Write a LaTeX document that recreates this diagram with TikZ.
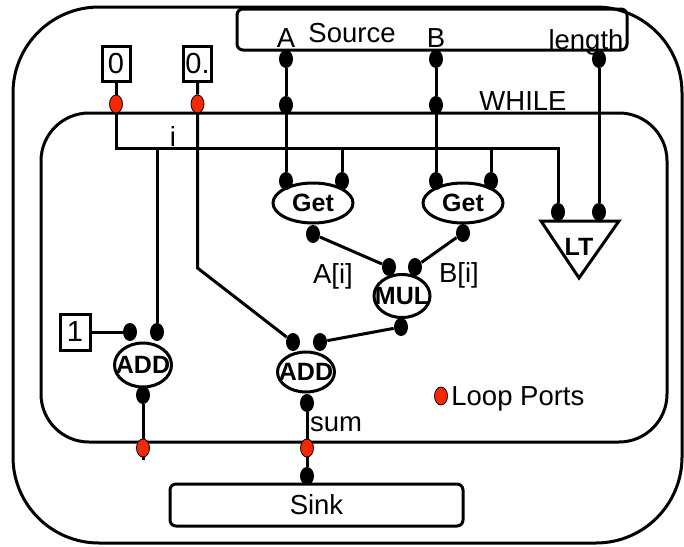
\documentclass[tikz,border=0pt]{standalone}
\usepackage{fontspec}
\setmainfont{Liberation Sans}
\usetikzlibrary{shapes.geometric,calc}
\definecolor{loopred}{RGB}{245,40,0}
\newcommand{\opname}[1]{\makebox[0pt]{#1}}

\begin{document}
\begin{tikzpicture}[x=0.5pt,y=-0.5pt,
  wire/.style={line width=1.5pt},
  frame/.style={draw,line width=1.5pt},
  port/.style={ellipse,fill=black,inner sep=0pt,minimum width=7pt,minimum height=9pt},
  loopport/.style={port,fill=loopred,draw=black,line width=0.4pt,minimum width=6.5pt},
  op/.style={ellipse,draw,line width=1.5pt,fill=white,inner sep=0pt,font=\fontsize{12.5}{12.5}\selectfont\bfseries},
  constbox/.style={rectangle,draw,line width=1.5pt,inner sep=0pt,minimum width=14pt,minimum height=17.5pt,font=\fontsize{14.5}{14.5}\selectfont},
  iobox/.style={rectangle,draw,rounded corners=3pt,line width=1.5pt,inner sep=0pt,font=\fontsize{13.75}{16}\selectfont},
  txt/.style={anchor=base,inner sep=0pt,font=\fontsize{13.75}{16}\selectfont}]
  \useasboundingbox (0,0) rectangle (684,546);

  % outer graph and WHILE loop
  \draw[frame,rounded corners=43pt] (13,7) rectangle (682,543);
  \draw[frame,rounded corners=24pt] (41,113) rectangle (667,442);

  % Source / Sink
  \node[iobox,minimum width=195pt,minimum height=20.5pt] (source) at (432,29.5) {};
  \node[txt] (srcname) at (352,42) {Source};
  \node[iobox,minimum width=146.5pt,minimum height=21pt] (sink) at (316.5,505) {Sink};

  % constants
  \node[constbox] (c0) at (116,63.5) {0};
  \node[constbox] (cdot) at (197.5,63.5) {0.};
  \node[constbox,minimum width=15pt,minimum height=18pt] (cone) at (75,332) {1};

  % operators
  \node[op,minimum width=40pt,minimum height=20pt] (getA) at (313,203) {\opname{Get}};
  \node[op,minimum width=40pt,minimum height=20pt] (getB) at (463,203) {\opname{Get}};
  \node[op,minimum width=28pt,minimum height=21.5pt] (mul) at (402,296) {\opname{MUL}};
  \node[op,minimum width=28.5pt,minimum height=22pt] (add1) at (143,365) {\opname{ADD}};
  \node[op,minimum width=28.5pt,minimum height=20pt] (add2) at (306,372) {\opname{ADD}};
  \draw[frame] (541,221) -- (619,221) -- (579,278) -- cycle;
  \node[op,draw=none,fill=none] (lt) at (579,246.5) {LT};

  % ports
  \foreach \n/\p in {srcA/{286,59},srcB/{436,59},srcL/{599,59},wA/{286,105},wB/{436,105},
      getA1/{286,181},getA2/{342,181},getB1/{436,181},getB2/{491,181},
      getAo/{313,234},getBo/{463,233},mulA/{389,267},mulB/{415,267},mulo/{401,327},
      ltA/{558,212},ltB/{599,212},add1A/{130,332},add1B/{157,332},add1o/{143,395},
      add2A/{293,342},add2B/{320,342},add2o/{307,403},sinkin/{307,476}}
    \node[port] (\n) at (\p) {};
  \foreach \n/\p in {lpI/{116,104},lpS/{197.5,104},lpI2/{143,448},lpS2/{307,448},legdot/{441,396}}
    \node[loopport] (\n) at (\p) {};

  % counter i
  \coordinate (ibar) at (0,148);
  \draw[wire] (c0) -- (lpI) -- (lpI |- ibar) -| (ltA);
  \foreach \n in {add1B,getA2,getB2}
    \draw[wire] (\n |- ibar) -- (\n);
  \coordinate (stub) at (143,460);
  \draw[wire] (cone) -- (add1A);
  \draw[wire] (add1o) -- (lpI2) -- (stub);

  % running sum
  \coordinate (sbend) at (0,268);
  \draw[wire] (cdot) -- (lpS) -- (lpS |- sbend) -- (add2A);
  \draw[wire] (add2o) -- (lpS2) -- (sinkin);

  % array inputs
  \draw[wire] (srcA) -- (wA) -- (getA1);
  \draw[wire] (srcB) -- (wB) -- (getB1);
  \draw[wire] (srcL) -- (ltB);
  \draw[wire] (getAo) -- (mulA);
  \draw[wire] (getBo) -- (mulB);
  \draw[wire] (mulo) -- (add2B);

  % labels
  \node[txt] (lA) at (286,47) {A};
  \node[txt] (lB) at (436,47) {B};
  \node[txt] (lL) at (586,49) {length};
  \node[txt] (lW) at (523,110) {WHILE};
  \node[txt] (li) at (173,146) {i};
  \node[txt] (lAi) at (333,283) {A[i]};
  \node[txt] (lBi) at (459,282) {B[i]};
  \node[txt] (lsum) at (336,431) {sum};
  \node[txt,anchor=base west] (lleg) at (451,405) {Loop Ports};
\end{tikzpicture}
\end{document}
